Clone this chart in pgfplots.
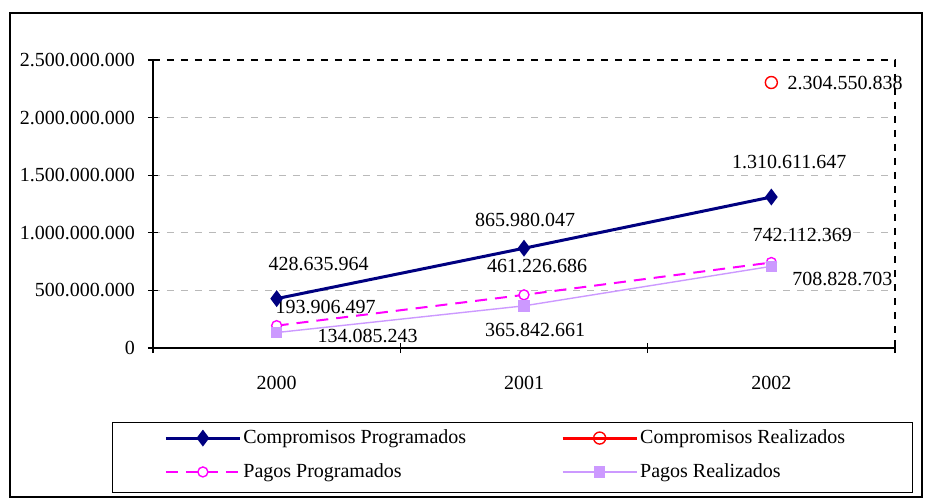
\documentclass[border=0pt]{standalone}
\usepackage{fontspec}
\setmainfont{Liberation Serif}
\usepackage{pgfplots}
\pgfplotsset{compat=1.18}
\definecolor{cp}{RGB}{0,0,128}
\definecolor{pp}{RGB}{255,0,255}
\definecolor{pr}{RGB}{204,153,255}
\begin{document}
\begin{tikzpicture}[font=\fontsize{10bp}{12bp}\selectfont]
\path[use as bounding box] (-76.5bp,-77.5bp) rectangle (391bp,174bp);
\draw[line width=0.6bp] (-71.5bp,-74.5bp) rectangle (384.5bp,167.5bp);
\draw[line width=0.5bp] (-20bp,-37bp) rectangle (379.5bp,-72bp);
\begin{axis}[
  at={(0,0)}, anchor=south west, scale only axis,
  width=371bp, height=144bp,
  xmin=-0.5, xmax=2.5, ymin=0, ymax=2.5e9,
  xtick={0,1,2}, xticklabels={2000,2001,2002},
  minor xtick={-0.5,0.5,1.5,2.5},
  major x tick style={draw=none},
  ytick={0,5e8,1e9,1.5e9,2e9,2.5e9},
  yticklabels={0,500.000.000,1.000.000.000,1.500.000.000,2.000.000.000,2.500.000.000},
  scaled y ticks=false,
  tick align=center, major tick length=5bp, minor tick length=5bp,
  tick style={black, line width=0.6bp},
  xtick pos=bottom, ytick pos=left,
  xticklabel style={yshift=-8bp},
  yticklabel style={xshift=-3bp},
  ymajorgrids, major grid style={gray!55, line width=0.5bp, dash pattern=on 3.5bp off 3.5bp},
  axis line style={draw=none},
  clip=false,
  legend columns=2,
  legend cell align=left,
  legend image code/.code={\draw[mark repeat=2,mark phase=2,#1] plot coordinates {(0bp,0bp) (18.5bp,0bp) (37bp,0bp)};},
  legend style={draw=none, fill=none, at={(axis description cs:0,0)}, anchor=west,
    xshift=5.5bp, yshift=-53.5bp, inner sep=0pt, row sep=4.5bp,
    nodes={inner xsep=1bp, inner ysep=2bp},
    /tikz/every even column/.append style={column sep=46.5bp}},
]
\addplot[cp, line width=1.5bp, mark=diamond*, mark size=3bp, mark options={solid, fill=cp}]
  coordinates {(0,428635964) (1,865980047) (2,1310611647)};
\addlegendentry{Compromisos Programados}
\addplot[red, line width=1.5bp, mark=o, mark size=3bp, mark options={solid, line width=0.7bp, fill=white}]
  coordinates {(2,2304550838)};
\addlegendentry{Compromisos Realizados}
\addplot[pp, line width=1bp, dash pattern=on 6bp off 4bp, mark=*, mark size=2.5bp, mark options={solid, fill=white, line width=0.7bp}]
  coordinates {(0,193906497) (1,461226686) (2,742112369)};
\addlegendentry{Pagos Programados}
\addplot[pr, line width=0.7bp, mark=square*, mark size=2.5bp, mark options={solid, fill=pr}]
  coordinates {(0,134085243) (1,365842661) (2,708828703)};
\addlegendentry{Pagos Realizados}
\draw[black, line width=0.6bp, dash pattern=on 3.5bp off 3.5bp] (rel axis cs:0,1) -- (rel axis cs:1,1) -- (rel axis cs:1,0);
\draw[black, line width=0.7bp] (rel axis cs:0,1) -- (rel axis cs:0,0) -- (rel axis cs:1,0);
\node[xshift=21bp, yshift=17.5bp] at (axis cs:0,428635964) {428.635.964};
\node[xshift=0.5bp, yshift=14bp] at (axis cs:1,865980047) {865.980.047};
\node[xshift=9bp, yshift=17.5bp] at (axis cs:2,1310611647) {1.310.611.647};
\node[anchor=west, inner sep=0pt, xshift=8bp] at (axis cs:2,2304550838) {2.304.550.838};
\node[xshift=24.5bp, yshift=9.5bp] at (axis cs:0,193906497) {193.906.497};
\node[xshift=6.5bp, yshift=14.5bp] at (axis cs:1,461226686) {461.226.686};
\node[xshift=15.5bp, yshift=13.5bp] at (axis cs:2,742112369) {742.112.369};
\node[xshift=45.5bp, yshift=-1.5bp] at (axis cs:0,134085243) {134.085.243};
\node[xshift=5.5bp, yshift=-12bp] at (axis cs:1,365842661) {365.842.661};
\node[xshift=35.5bp, yshift=-6.5bp] at (axis cs:2,708828703) {708.828.703};
\end{axis}
\end{tikzpicture}
\end{document}
